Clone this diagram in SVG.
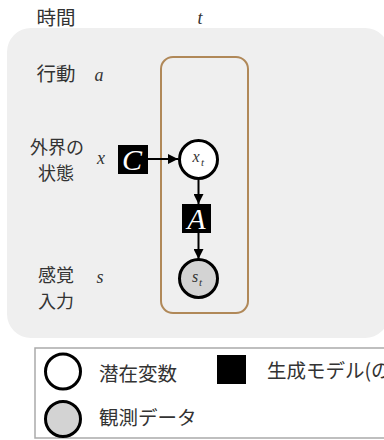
<svg xmlns="http://www.w3.org/2000/svg" width="384" height="440" viewBox="0 0 384 440">
<defs>
<style>
.jp{font-family:"Noto Sans CJK JP","Noto Sans",sans-serif;font-size:19.5px;fill:#333}
.jp2{font-family:"Noto Sans CJK JP","Noto Sans",sans-serif;font-size:18px;fill:#333;text-anchor:middle}
.var{font-family:"Liberation Serif","Times New Roman",serif;font-style:italic;font-weight:normal;font-size:18px;fill:#333}
.sub{font-family:"Liberation Serif","Times New Roman",serif;font-style:italic;font-weight:normal;fill:#333}
.fac{fill:#000}
.factxt{font-family:"Liberation Serif","Times New Roman",serif;font-style:italic;font-weight:normal;font-size:30px;fill:#fff;text-anchor:middle}
.edge{stroke:#000;stroke-width:2;fill:none}
</style>
<marker id="arr" viewBox="0 0 10 10" refX="10" refY="5" markerWidth="10" markerHeight="10" markerUnits="userSpaceOnUse" orient="auto">
<path d="M0,0 L10,5 L0,10 z" fill="#000"/>
</marker>
</defs>
<rect x="7" y="28" width="382" height="310" rx="24" fill="#efefef"/>
<text class="jp" x="56" y="25" text-anchor="middle">時間</text>
<text class="var" x="200" y="24" text-anchor="middle">t</text>
<rect id="plate" x="161" y="57" width="87" height="256" rx="12" fill="none" stroke="#b08858" stroke-width="2"/>
<g id="labels">
<text class="jp" x="56" y="81" text-anchor="middle">行動</text>
<text class="var" x="99" y="81" text-anchor="middle">a</text>
<text class="jp2" x="57" y="154">外界の</text>
<text class="jp2" x="56" y="180">状態</text>
<text class="var" x="101" y="164" text-anchor="middle">x</text>
<text class="jp2" x="56" y="282">感覚</text>
<text class="jp2" x="56" y="308">入力</text>
<text class="var" x="100" y="283" text-anchor="middle">s</text>
</g>
<g id="edges">
<line class="edge" x1="148" y1="159" x2="178" y2="159" marker-end="url(#arr)"/>
<line class="edge" x1="198.5" y1="180" x2="198.5" y2="204" marker-end="url(#arr)"/>
<line class="edge" x1="198.5" y1="233" x2="198.5" y2="259" marker-end="url(#arr)"/>
</g>
<g id="C">
<rect class="fac" x="118" y="145" width="30" height="29"/>
<text class="factxt" x="132" y="170">C</text>
</g>
<g id="xt">
<circle cx="198.5" cy="159.5" r="19" fill="#fff" stroke="#000" stroke-width="3"/>
<text class="sub" x="196" y="162" font-size="16" text-anchor="middle">x</text>
<text class="sub" x="201" y="166" font-size="11">t</text>
</g>
<g id="A">
<rect class="fac" x="182" y="204" width="29" height="29"/>
<text class="factxt" x="196.5" y="229">A</text>
</g>
<g id="st">
<circle cx="198.5" cy="278.5" r="19" fill="#d3d3d3" stroke="#000" stroke-width="3"/>
<text class="sub" x="195" y="282" font-size="16" text-anchor="middle">s</text>
<text class="sub" x="199" y="286" font-size="11">t</text>
</g>
<g id="legend">
<rect x="35" y="348" width="360" height="90" fill="#fff" stroke="#aaa" stroke-width="1.5"/>
<circle cx="63" cy="371.5" r="17.5" fill="#fff" stroke="#000" stroke-width="3"/>
<text class="jp" x="99" y="381">潜在変数</text>
<rect x="217" y="355" width="29" height="29" fill="#000"/>
<text class="jp" x="267" y="378">生成モデル(の</text>
<circle cx="63" cy="419" r="17.5" fill="#d3d3d3" stroke="#000" stroke-width="3"/>
<text class="jp" x="99" y="425">観測データ</text>
</g>
</svg>
